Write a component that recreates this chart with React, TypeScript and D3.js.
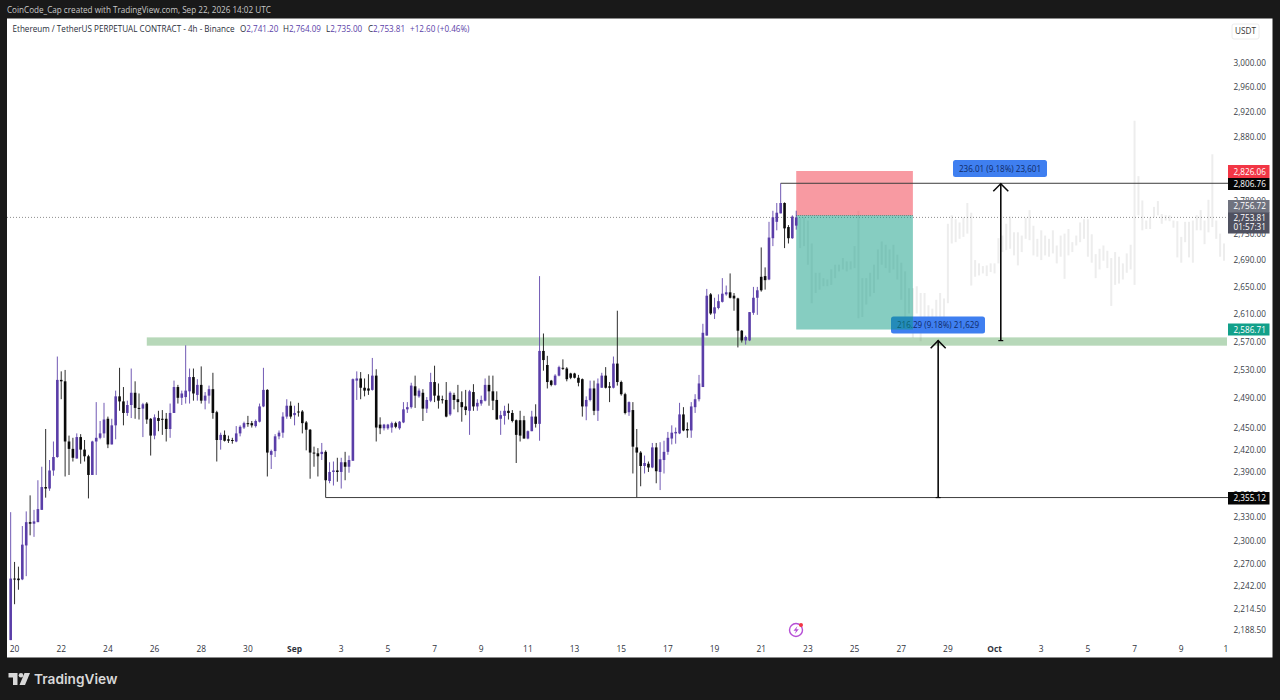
import React from "react";
import * as d3 from "d3";

// 4h candles, first candle = Aug 19 20:00 UTC
const opens = [
2175,2251,2251,2250,2293,2323,2321,2323,2339,2369,
2367,2391,2409,2515,2513,2430,2420,2407,2436,2419,
2410,2385,2430,2435,2441,2461,2426,2452,2492,2485,
2469,2480,2497,2476,2475,2482,2461,2438,2462,2461,
2461,2447,2469,2505,2490,2491,2499,2519,2494,2508,
2486,2493,2502,2470,2432,2439,2433,2432,2430,2441,
2449,2455,2455,2451,2457,2478,2501,2412,2417,2437,
2442,2464,2479,2466,2471,2471,2456,2446,2415,2414,
2413,2416,2377,2389,2391,2389,2402,2396,2404,2514,
2517,2504,2503,2501,2521,2453,2448,2448,2449,2455,
2448,2456,2474,2477,2506,2492,2497,2475,2486,2512,
2493,2488,2487,2467,2494,2488,2484,2478,2472,2498,
2478,2482,2486,2508,2499,2487,2461,2465,2472,2469,
2459,2459,2459,2434,2444,2464,2454,2556,2536,2514,
2508,2521,2532,2531,2524,2524,2518,2516,2478,2487,
2503,2472,2504,2521,2506,2504,2538,2512,2495,2470,
2473,2422,2415,2397,2400,2395,2422,2389,2405,2416,
2434,2441,2441,2467,2447,2445,2477,2488,2505,2578,
2638,2610,2618,2627,2638,2641,2636,2632,2585,2571,
2571,2611,2633,2664,2665,2660,2722,2747,2760,2776,
2739,2722,2741.2];
const highs = [
2336,2272,2266,2318,2337,2358,2339,2378,2396,2447,
2405,2430,2548,2527,2529,2438,2435,2441,2440,2432,
2412,2431,2484,2458,2483,2464,2461,2500,2532,2505,
2486,2531,2513,2496,2483,2484,2462,2467,2472,2473,
2469,2482,2514,2508,2500,2564,2531,2531,2516,2534,
2498,2507,2525,2472,2442,2445,2438,2435,2451,2452,
2457,2465,2458,2460,2482,2532,2502,2419,2440,2445,
2470,2488,2485,2479,2483,2473,2458,2447,2423,2421,
2428,2418,2402,2403,2408,2408,2416,2411,2517,2527,
2526,2517,2523,2546,2530,2463,2454,2454,2457,2457,
2458,2484,2484,2511,2521,2503,2502,2491,2525,2535,
2510,2493,2512,2499,2497,2508,2499,2501,2501,2509,
2488,2493,2517,2521,2521,2499,2472,2479,2482,2473,
2460,2472,2465,2445,2472,2481,2665,2581,2549,2515,
2523,2535,2544,2533,2525,2525,2522,2517,2492,2514,
2514,2517,2525,2533,2512,2548,2614,2514,2497,2485,
2484,2447,2417,2411,2403,2428,2428,2429,2431,2443,
2452,2449,2483,2477,2456,2484,2495,2522,2595,2646,
2640,2633,2638,2662,2651,2669,2640,2633,2586,2578,
2612,2649,2649,2708,2678,2747,2764,2776,2806.76,2777,
2742,2757,2764.09];
const lows = [
2175,2219,2237,2249,2254,2306,2304,2323,2339,2355,
2364,2384,2408,2488,2383,2385,2403,2407,2400,2403,
2354,2385,2385,2433,2435,2421,2426,2433,2472,2452,
2465,2462,2461,2460,2436,2454,2411,2433,2444,2439,
2430,2435,2469,2482,2480,2482,2482,2486,2486,2482,
2474,2482,2461,2403,2419,2430,2428,2427,2429,2437,
2447,2450,2449,2449,2456,2477,2383,2393,2409,2433,
2435,2461,2461,2452,2464,2441,2418,2380,2396,2383,
2405,2355.12,2374,2371,2376,2367,2378,2388,2404,2487,
2488,2492,2494,2500,2430,2440,2445,2446,2442,2448,
2446,2455,2469,2475,2476,2490,2458,2469,2484,2484,
2475,2482,2463,2465,2474,2470,2457,2466,2439,2472,
2472,2479,2485,2479,2473,2460,2439,2453,2460,2456,
2401,2430,2434,2433,2444,2449,2431,2528,2503,2506,
2507,2520,2529,2513,2516,2517,2506,2464,2459,2485,
2466,2458,2504,2503,2484,2503,2507,2493,2467,2465,
2387,2355.12,2370,2387,2389,2394,2374,2365,2387,2412,
2426,2427,2440,2444,2435,2435,2469,2485,2505,2578,
2608,2602,2616,2626,2636,2632,2614,2561,2568,2565,
2570,2608,2608,2642,2645,2659,2710,2734,2760,2707,
2714,2721,2735];
const closes = [
2251,2250,2249,2294,2323,2321,2324,2340,2369,2367,
2391,2409,2515,2513,2430,2420,2408,2436,2419,2410,
2385,2430,2435,2441,2460,2426,2452,2492,2485,2469,
2480,2497,2476,2475,2481,2460,2438,2463,2458,2460,
2447,2469,2505,2490,2496,2500,2519,2496,2508,2486,
2493,2502,2469,2432,2439,2431,2431,2431,2441,2450,
2455,2454,2452,2458,2478,2501,2415,2417,2437,2442,
2464,2479,2464,2469,2470,2455,2446,2415,2414,2410,
2416,2378,2389,2391,2389,2402,2396,2405,2516,2517,
2504,2500,2500,2521,2449,2448,2453,2453,2455,2450,
2457,2474,2477,2507,2493,2500,2475,2487,2512,2493,
2486,2487,2464,2497,2487,2484,2477,2473,2499,2478,
2483,2487,2508,2499,2486,2460,2466,2472,2469,2458,
2439,2438,2434,2444,2464,2454,2556,2543,2512,2508,
2521,2533,2531,2516,2518,2518,2511,2478,2487,2503,
2472,2510,2521,2504,2504,2538,2512,2495,2469,2484,
2423,2415,2397,2401,2395,2422,2390,2406,2416,2435,
2442,2443,2467,2445,2445,2478,2488,2510,2582,2636,
2610,2619,2628,2639,2641,2633,2632,2585,2571,2576,
2612,2633,2644,2644,2659,2723,2754,2761,2776,2737,
2722,2755,2753.81];

// faded projection bars after the last real candle
const ghostHighs = [
2754,2754,2749,2714,2670,2670,2662,2660,2675,2682,
2682,2692,2687,2687,2710,2764,2662,2662,2670,2682,
2705,2717,2712,2705,2712,2697,2685,2672,2647,2647,
2650,2640,2640,2622,2617,2630,2640,2632,2744,2757,
2751,2746,2754,2776,2761,2689,2684,2680,2681,2684,
2684,2722,2726,2744,2755,2731,2731,2726,2753,2765,
2741,2721,2734,2726,2721,2734,2711,2726,2729,2736,
2716,2726,2746,2751,2751,2728,2698,2706,2711,2703,
2692,2701,2694,2684,2699,2712,2905,2818,2780,2749,
2754,2770,2779,2759,2757,2757,2749,2748,2724,2747,
2747,2749,2757,2765,2749,2781,2852,2749,2729,2714];
const ghostLows = [
2707,2710,2682,2625,2640,2645,2650,2650,2652,2662,
2672,2675,2672,2675,2677,2603,2605,2623,2635,2640,
2660,2682,2677,2670,2675,2660,2630,2605,2610,2575,
2610,2570,2595,2595,2595,2595,2605,2603,2625,2714,
2716,2721,2724,2729,2651,2664,2666,2669,2665,2671,
2669,2684,2701,2704,2706,2696,2681,2701,2721,2719,
2696,2694,2689,2696,2694,2699,2684,2694,2661,2696,
2701,2711,2716,2721,2694,2685,2662,2675,2688,2677,
2621,2652,2654,2660,2670,2675,2652,2757,2734,2736,
2736,2754,2757,2744,2749,2748,2738,2693,2685,2716,
2693,2685,2734,2734,2713,2731,2739,2721,2694,2688];

const priceTicks = [3000,2960,2920,2880,2830,2780,2730,2690,2650,2610,2570,2530,2490,2450,2420,2390,2360,2330,2300,2270,2242,2214.5,2188.5];
const timeLabels = ["20","22","24","26","28","30","Sep","3","5","7","9","11","13","15","17","19","21","23","25","27","29","Oct","3","5","7","9","1"];
const boldLabels = ["Sep","Oct"];

const lastClose = 2753.81;
const entryPrice = 2756.72;
const stopPrice = 2826.06;
const targetPrice = 2586.71;
const swingHigh = 2806.76;
const swingLow = 2355.12;
const zoneTop = 2575.4;
const zoneBottom = 2563.5;
const upMoveStart = 2570.75;
const downMoveEnd = 2571.41;

const UP = "#5a3ea8";
const DOWN = "#0a0a0a";
const FONT = "'Open Sans', 'Noto Sans', sans-serif";
const fmt = d3.format(",.2f");

const y = d3.scaleLog().domain([3000, stopPrice, 2188.5]).range([62, 171, 629]);
const x = d3.scaleLinear().domain([0, 312]).range([10.67, 1224]);

function AxisTag({ top, h, fill, label, base, sub }: { top: number; h: number; fill: string; label: string; base?: number; sub?: string }) {
  const ly = base ?? top + h / 2 + 3;
  return (
    <g>
      <rect x={1228} y={top} width={41.5} height={h} fill={fill} />
      <text x={1233.5} y={ly} fontSize={8.2} fill="#fff">{label}</text>
      {sub && <text x={1233.5} y={ly + 9.6} fontSize={8.2} fill="#fff">{sub}</text>}
    </g>
  );
}

function Arrow({ ax, from, to }: { ax: number; from: number; to: number }) {
  const yf = y(from), yt = y(to);
  return (
    <g stroke="#0a0a0a" fill="none">
      <path d={`M${ax},${yf}V${yt}`} strokeWidth={1.6} />
      <path d={`M${ax - 2.5},${yf}H${ax + 2.5}`} strokeWidth={1.2} />
      <path d={`M${ax - 7.5},${yt + 8}L${ax},${yt + 0.5}L${ax + 7.5},${yt + 8}`} strokeWidth={1.5} />
    </g>
  );
}

export default function App() {
  const boxL = x(202), boxR = x(232);
  return (
    <svg width={1280} height={700} viewBox="0 0 1280 700" style={{ position: "fixed", left: 0, top: 0, display: "block" }} fontFamily={FONT}>
      <rect width={1280} height={700} fill="#191919" />
      <rect x={7} y={18.5} width={1265.5} height={638.5} fill="#fff" />
      <rect x={7} y={657} width={1265.5} height={1} fill="#8a8a8a" />

      <text x={7} y={13} fontSize={8.15} fill="#c9c9c9">CoinCode_Cap created with TradingView.com, Sep 22, 2026 14:02 UTC</text>

      <text x={12.5} y={32.3} fontSize={8.1} fill="#2a2e39">Ethereum / TetherUS PERPETUAL CONTRACT - 4h - Binance</text>
      <text x={240} y={32.3} fontSize={8.1} fill="#2a2e39">O<tspan fill={UP}>2,741.20</tspan></text>
      <text x={283} y={32.3} fontSize={8.1} fill="#2a2e39">H<tspan fill={UP}>2,764.09</tspan></text>
      <text x={326} y={32.3} fontSize={8.1} fill="#2a2e39">L<tspan fill={UP}>2,735.00</tspan></text>
      <text x={368} y={32.3} fontSize={8.1} fill="#2a2e39">C<tspan fill={UP}>2,753.81</tspan></text>
      <text x={410} y={32.3} fontSize={8.1} fill={UP}>+12.60 (+0.46%)</text>

      {/* support zone */}
      <rect x={x(35)} y={y(zoneTop)} width={1227 - x(35)} height={y(zoneBottom) - y(zoneTop)} fill="#b7d8b9" />

      {/* last-price dotted line */}
      <line x1={7} x2={1228} y1={y(lastClose)} y2={y(lastClose)} stroke="#8f8f8f" strokeWidth={1} strokeDasharray="1 2" />

      {/* projection bars */}
      {ghostHighs.map((h, i) => (
        <rect key={i} x={x(i + 203) - 1} width={2} y={y(h)} height={y(ghostLows[i]) - y(h)} fill="rgba(110,110,110,0.12)" />
      ))}

      {/* lower measure label sits under the position box */}
      <rect x={891} y={316.5} width={94} height={17} rx={2.5} fill="#3f7ff0" />
      <text x={938} y={328} fontSize={8.1} textAnchor="middle" fill="#0f2a66">216.29 (9.18%) 21,629</text>

      {/* short position box */}
      <rect x={boxL} width={boxR - boxL} y={y(stopPrice)} height={y(entryPrice) - y(stopPrice)} fill="rgba(242,54,69,0.5)" />
      <rect x={boxL} width={boxR - boxL} y={y(entryPrice)} height={y(targetPrice) - y(entryPrice)} fill="rgba(8,153,129,0.49)" />
      <line x1={boxL} x2={boxR} y1={y(entryPrice)} y2={y(entryPrice)} stroke="#5a7f78" strokeWidth={1} strokeDasharray="1 1" />

      {/* candles */}
      {opens.map((o, i) => {
        const c = closes[i];
        const col = c >= o ? UP : DOWN;
        const cx = x(i);
        const top = y(Math.max(o, c));
        const bot = y(Math.min(o, c));
        return (
          <g key={i}>
            <line x1={cx} x2={cx} y1={y(highs[i])} y2={y(lows[i])} stroke={col} strokeWidth={1} opacity={0.85} />
            <rect x={cx - 1.3} width={2.6} y={top} height={Math.max(bot - top, 1)} fill={col} />
          </g>
        );
      })}

      {/* swing lines */}
      <line x1={x(198)} x2={1228} y1={y(swingHigh)} y2={y(swingHigh)} stroke="#3d3d3d" strokeWidth={1} />
      <line x1={x(81)} x2={1228} y1={y(swingLow)} y2={y(swingLow)} stroke="#3d3d3d" strokeWidth={1} />

      {/* measure arrows */}
      <Arrow ax={x(254.6)} from={upMoveStart} to={swingHigh} />
      <Arrow ax={x(238.5)} from={swingLow} to={downMoveEnd} />
      <rect x={953} y={160} width={94} height={17} rx={2.5} fill="#3f7ff0" />
      <text x={1000} y={171.5} fontSize={8.1} textAnchor="middle" fill="#0f2a66">236.01 (9.18%) 23,601</text>

      {/* right price axis */}
      <rect x={1232} y={24} width={27} height={15} rx={2} fill="#fff" stroke="#ececec" />
      <text x={1245.5} y={34.3} fontSize={8.2} textAnchor="middle" fill="#333">USDT</text>
      {priceTicks.map((p) => (
        <text key={p} x={1233.5} y={y(p) + 3.7} fontSize={8.2} fill="#3a3e48">{fmt(p)}</text>
      ))}
      <AxisTag top={165} h={13} fill="#f23645" label={fmt(stopPrice)} />
      <AxisTag top={178} h={12} fill="#050505" label={fmt(swingHigh)} />
      <AxisTag top={200} h={13} fill="#70737f" label={fmt(entryPrice)} base={209} />
      <AxisTag top={212.5} h={21} fill="#4f5160" label={fmt(lastClose)} base={220.8} sub="01:57:31" />
      <AxisTag top={323.5} h={12} fill="#12a08a" label={fmt(targetPrice)} />
      <AxisTag top={492} h={12.5} fill="#050505" label={fmt(swingLow)} />

      {/* time axis */}
      {timeLabels.map((t, i) => (
        <text key={i} x={i === timeLabels.length - 1 ? 1226 : x(1 + i * 12)} y={651.5} fontSize={8.4} textAnchor="middle"
          fontWeight={boldLabels.includes(t) ? 700 : 400} fill="#2f333d">{t}</text>
      ))}

      {/* event icon */}
      <circle cx={796} cy={630} r={6.5} fill="#fff" stroke="#b64fd6" strokeWidth={1.4} />
      <path d="M797.5,626 L793.5,630.8 H796 L794.8,634 L798.8,629.2 H796.3 Z" fill="#b64fd6" />
      <circle cx={801} cy={625} r={2} fill="#f23645" />

      {/* footer logo */}
      <g fill="#d8d8d8">
        <path d="M8.5,673 H17.5 V685 H13 V677.5 H8.5 Z" />
        <circle cx={21} cy={675.3} r={2.3} />
        <path d="M24.5,673 H30 L25,685 H19.5 Z" />
      </g>
      <text x={34} y={684} fontSize={13.7} fontWeight={600} fontFamily="'Inter', sans-serif" fill="#d8d8d8">TradingView</text>
    </svg>
  );
}
